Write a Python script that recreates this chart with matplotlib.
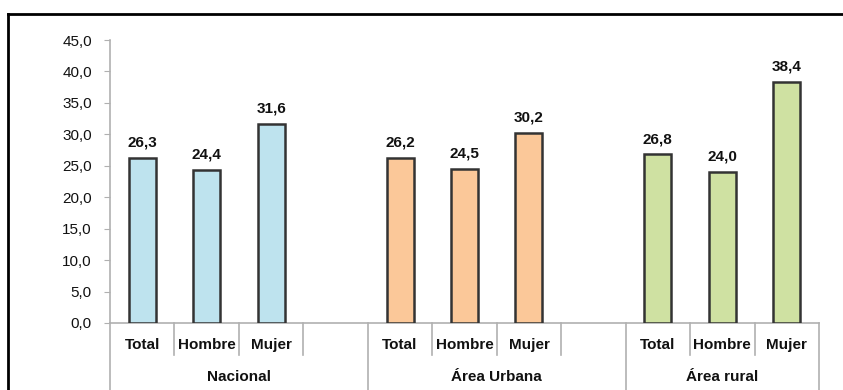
import matplotlib
matplotlib.use("Agg")
import matplotlib.pyplot as plt
from matplotlib.lines import Line2D
import matplotlib.transforms as mtransforms

plt.rcParams['font.family'] = ['Liberation Sans', 'DejaVu Sans']

# datos
grupos = ["Nacional", "Área Urbana", "Área rural"]
categorias = ["Total", "Hombre", "Mujer"]
nacional = [26.3, 24.4, 31.6]
urbana = [26.2, 24.5, 30.2]
rural = [26.8, 24.0, 38.4]
colores = ["#BEE3EE", "#FBC899", "#CFE1A2"]
yticks = [0, 5, 10, 15, 20, 25, 30, 35, 40, 45]

series = [nacional, urbana, rural]

fig = plt.figure(figsize=(8.43, 3.90), dpi=100)
ax = fig.add_axes([110 / 843, 1 - 323 / 390, 709 / 843, 283 / 390])

gris = "#b0b0b0"
texto = "#111111"
fs = 11

# cada grupo ocupa 4 posiciones (la ultima vacia), excepto el ultimo
for g, valores in enumerate(series):
    base = g * 4
    for i, v in enumerate(valores):
        x = base + i
        ax.bar(x, v, width=0.42, color=colores[g], edgecolor="#333333",
               linewidth=1.8, zorder=3)
        ax.annotate(f"{v:.1f}".replace(".", ","), (x, v), xytext=(0, 6),
                    textcoords="offset points", ha="center", va="bottom",
                    fontsize=fs, fontweight="bold", color=texto)

ax.set_xlim(-0.5, 10.5)
ax.set_ylim(0, 45)
ax.set_yticks(yticks)
ax.set_yticklabels([f"{t:.1f}".replace(".", ",") for t in yticks],
                   fontsize=fs, color=texto)
ax.tick_params(axis="y", length=4, color=gris, pad=9)
ax.set_xticks([])

for s in ["top", "right"]:
    ax.spines[s].set_visible(False)
for s in ["left", "bottom"]:
    ax.spines[s].set_color(gris)
    ax.spines[s].set_linewidth(1.2)

# etiquetas de categoria y grupo bajo el eje
trans = mtransforms.blended_transform_factory(ax.transData, ax.transAxes)
for g, nombre in enumerate(grupos):
    base = g * 4
    for i, c in enumerate(categorias):
        ax.text(base + i, -0.078, c, transform=trans, ha="center", va="center",
                fontsize=fs, fontweight="bold", color=texto)
    centro = base + 1.5 if g < 2 else base + 1
    ax.text(centro, -0.19, nombre, transform=trans, ha="center", va="center",
            fontsize=fs, fontweight="bold", color=texto)

# lineas divisorias
cortas = [0.5, 1.5, 2.5, 4.5, 5.5, 6.5, 8.5, 9.5]
largas = [-0.5, 3.5, 7.5, 10.5]
for x in cortas:
    ax.plot([x, x], [0, -0.113], transform=trans, color=gris, lw=1.2,
            clip_on=False)
for x in largas:
    ax.plot([x, x], [0, -0.25], transform=trans, color=gris, lw=1.2,
            clip_on=False)

# marco exterior
fig.add_artist(Line2D([8 / 843, 8 / 843], [0, 1 - 14 / 390],
                      color="black", lw=2, transform=fig.transFigure))
fig.add_artist(Line2D([8 / 843, 1], [1 - 14 / 390, 1 - 14 / 390],
                      color="black", lw=2, transform=fig.transFigure))

fig.savefig("out.png", dpi=100)
